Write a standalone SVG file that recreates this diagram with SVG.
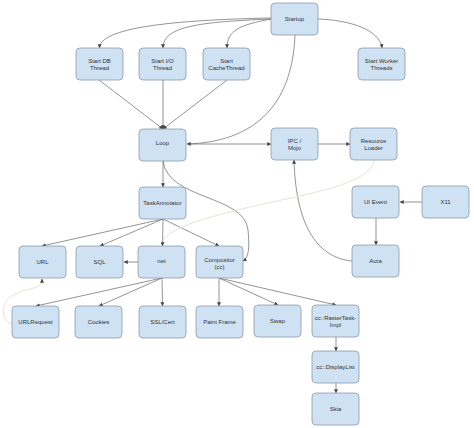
<svg xmlns="http://www.w3.org/2000/svg" width="474" height="428" viewBox="0 0 474 428">
<defs>
<marker id="ah" viewBox="0 0 8 8" refX="7.5" refY="4" markerWidth="4" markerHeight="4" orient="auto" markerUnits="userSpaceOnUse">
<path d="M0,0 L8,4 L0,8 Z" fill="#444"/>
</marker>
<style>
.n rect{fill:#cfe2f3;stroke:#8e9aa8;stroke-width:0.8}
.n text{font-family:"Liberation Sans",Arial,sans-serif;font-size:6px;fill:#333;text-anchor:middle}
.c path{fill:none;stroke:#666;stroke-width:0.7}
.c path.a{marker-end:url(#ah)}
.c path.f{stroke:#e8e2d8;stroke-width:1}
</style>
</defs>
<rect width="474" height="428" fill="#fff"/>
<g id="connectors" class="c">
<path class="a" d="M271,18 C170,20 100,28 99.5,48"/>
<path class="a" d="M271,19 C200,22 163,26 163,48"/>
<path class="a" d="M271,19 C240,25 227,30 227,48"/>
<path class="a" d="M318,19 C350,20 380,30 382,48"/>
<path class="a" d="M295,35 C292,110 250,142 187,144"/>
<path class="a" d="M187,144 L271,144"/>
<path class="a" d="M99,80 L163,129"/>
<path class="a" d="M163,80 L163,129"/>
<path class="a" d="M227,80 L163,129"/>
<path class="a" d="M318,144 L350,144"/>
<path class="a" d="M163,161 L163,187"/>
<path class="a" d="M163,161 C168,200 245,195 248,230 C250,250 248,258 243,261"/>
<path class="a" d="M163,219 L42,246"/>
<path class="a" d="M163,219 L100,246"/>
<path class="a" d="M163,219 L162.5,246"/>
<path class="a" d="M163,219 L219,246"/>
<path class="a" d="M138,262 L124,262"/>
<path class="a" d="M162,278 L36,306"/>
<path class="a" d="M162,278 L99,306"/>
<path class="a" d="M162,278 L162.5,306"/>
<path class="a" d="M219,278 L219,306"/>
<path class="a" d="M219,278 L278,305"/>
<path class="a" d="M219,278 L336,305"/>
<path class="a" d="M336,337 L336,351"/>
<path class="a" d="M336,383 L336,393"/>
<path class="a" d="M422,202 L400,202"/>
<path class="a" d="M376,218 L376,245"/>
<path class="a" d="M352,261 C320,258 296,230 294,160"/>
<path class="f" d="M374,160 C372,185 300,195 250,207 C210,217 175,225 163,240"/>
<path class="f" d="M12,324 C2,322 0,305 10,297 C22,288 42,290 42,281"/>
<path class="a" d="M42,282 L42,279"/>
</g>
<g id="startup" class="n"><rect x="271" y="3" width="47" height="32" rx="4"/><text x="294.5" y="21">Startup</text></g>
<g id="start-db" class="n"><rect x="76" y="48" width="47" height="32" rx="4"/><text x="99.5" y="63">Start DB</text><text x="99.5" y="70">Thread</text></g>
<g id="start-io" class="n"><rect x="139" y="48" width="47" height="32" rx="4"/><text x="162.5" y="63">Start I/O</text><text x="162.5" y="70">Thread</text></g>
<g id="start-cache" class="n"><rect x="203" y="48" width="47" height="32" rx="4"/><text x="226.5" y="63">Start</text><text x="226.5" y="70">CacheThread</text></g>
<g id="start-worker" class="n"><rect x="358" y="48" width="47" height="32" rx="4"/><text x="381.5" y="63">Start Worker</text><text x="381.5" y="70">Threads</text></g>
<g id="loop" class="n"><rect x="139" y="129" width="47" height="32" rx="4"/><text x="162.5" y="145">Loop</text></g>
<g id="ipc" class="n"><rect x="271" y="128" width="47" height="32" rx="4"/><text x="294.5" y="143">IPC /</text><text x="294.5" y="150">Mojo</text></g>
<g id="resource-loader" class="n"><rect x="350" y="128" width="47" height="32" rx="4"/><text x="373.5" y="143">Resource</text><text x="373.5" y="150">Loader</text></g>
<g id="ui-event" class="n"><rect x="352" y="186" width="47" height="32" rx="4"/><text x="375.5" y="204">UI Event</text></g>
<g id="x11" class="n"><rect x="422" y="186" width="47" height="32" rx="4"/><text x="445.5" y="204">X11</text></g>
<g id="aura" class="n"><rect x="352" y="245" width="47" height="32" rx="4"/><text x="375.5" y="263">Aura</text></g>
<g id="task-annotator" class="n"><rect x="139" y="187" width="47" height="32" rx="4"/><text x="162.5" y="205">TaskAnnotator</text></g>
<g id="url" class="n"><rect x="19" y="246" width="47" height="32" rx="4"/><text x="42.5" y="264">URL</text></g>
<g id="sql" class="n"><rect x="76" y="246" width="47" height="32" rx="4"/><text x="99.5" y="264">SQL</text></g>
<g id="net" class="n"><rect x="138" y="246" width="47" height="32" rx="4"/><text x="161.5" y="263">net</text></g>
<g id="compositor" class="n"><rect x="196" y="246" width="47" height="32" rx="4"/><text x="219.5" y="262">Compositor</text><text x="219.5" y="269">(cc)</text></g>
<g id="urlrequest" class="n"><rect x="12" y="306" width="47" height="32" rx="4"/><text x="35.5" y="324">URLRequest</text></g>
<g id="cookies" class="n"><rect x="75" y="306" width="47" height="32" rx="4"/><text x="98.5" y="324">Cookies</text></g>
<g id="ssl-cert" class="n"><rect x="139" y="306" width="47" height="32" rx="4"/><text x="162.5" y="324">SSL/Cert</text></g>
<g id="paint-frame" class="n"><rect x="196" y="306" width="47" height="32" rx="4"/><text x="219.5" y="324">Paint Frame</text></g>
<g id="swap" class="n"><rect x="254" y="305" width="47" height="32" rx="4"/><text x="277.5" y="323">Swap</text></g>
<g id="raster-task" class="n"><rect x="312" y="305" width="47" height="32" rx="4"/><text x="335.5" y="320">cc::RasterTask-</text><text x="335.5" y="327">Impl</text></g>
<g id="display-list" class="n"><rect x="312" y="351" width="47" height="32" rx="4"/><text x="335.5" y="369">cc::DisplayList</text></g>
<g id="skia" class="n"><rect x="312" y="393" width="47" height="32" rx="4"/><text x="335.5" y="411">Skia</text></g>
</svg>
